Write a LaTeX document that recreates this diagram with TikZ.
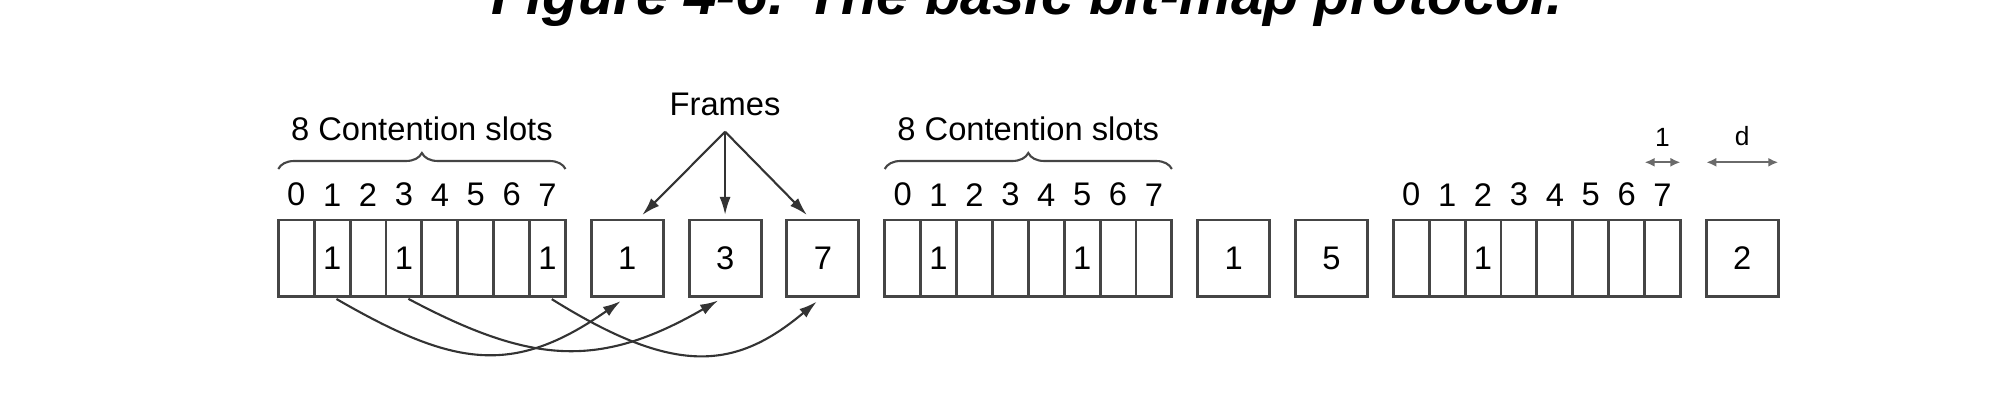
\documentclass[tikz,border=0pt]{standalone}
\usepackage{fontspec}
\setmainfont{Liberation Sans}
\usetikzlibrary{positioning,arrows.meta,decorations.pathreplacing}

\definecolor{boxline}{gray}{0.27}
\definecolor{arrowline}{gray}{0.2}

\begin{document}
\begin{tikzpicture}[
		slotbox/.style={
			draw=boxline,
			line width=0.8pt,
			inner sep=0pt,
			outer sep=0pt,
			minimum width=0.359cm,
			minimum height=0.765cm,
			font=\fontsize{9.3}{11}\selectfont
		},
		framebox/.style={slotbox, minimum width=0.72cm},
		txt/.style={inner sep=0pt, font=\fontsize{9.3}{11}\selectfont},
		dimtxt/.style={inner sep=0pt, font=\fontsize{7.5}{9}\selectfont},
		slotbrace/.style={draw=boxline, line width=0.6pt, decorate,
			decoration={brace, amplitude=0.16cm}},
		pointer/.style={draw=arrowline, line width=0.6pt,
			-{Latex[length=1.8mm, width=1.1mm]}},
		dimline/.style={draw=boxline!80, line width=0.6pt,
			{Latex[length=1mm, width=0.9mm]}-{Latex[length=1mm, width=0.9mm]}}
		]
		\useasboundingbox (0,0) rectangle (19.91,4.13);
		
		% title, cut by the top edge
		\node[inner sep=0pt, anchor=base, font=\fontsize{16.5}{20}\selectfont\bfseries\itshape]
			(title) at (10.27,3.98) {Figure 4-6. The basic bit-map protocol.};
		
		% first round: stations 1, 3 and 7
		\node[slotbox] (a0) at (2.9625,1.5475) {};
		\foreach \i/\b in {1/1,2/{},3/1,4/{},5/{},6/{},7/1}{
			\pgfmathtruncatemacro{\j}{\i-1}
			\node[slotbox, right=0pt of a\j] (a\i) {\b};
		}
		\node[framebox, right=0.258cm of a7] (f1) {1};
		\node[framebox, right=0.258cm of f1] (f3) {3};
		\node[framebox, right=0.258cm of f3] (f7) {7};
		
		% second round: stations 1 and 5
		\node[slotbox, right=0.258cm of f7] (b0) {};
		\foreach \i/\b in {1/1,2/{},3/{},4/{},5/1,6/{},7/{}}{
			\pgfmathtruncatemacro{\j}{\i-1}
			\node[slotbox, right=0pt of b\j] (b\i) {\b};
		}
		\node[framebox, right=0.258cm of b7] (g1) {1};
		\node[framebox, right=0.258cm of g1] (g5) {5};
		
		% third round: station 2
		\node[slotbox, right=0.258cm of g5] (c0) {};
		\foreach \i/\b in {1/{},2/1,3/{},4/{},5/{},6/{},7/{}}{
			\pgfmathtruncatemacro{\j}{\i-1}
			\node[slotbox, right=0pt of c\j] (c\i) {\b};
		}
		\node[framebox, right=0.258cm of c7] (h2) {2};
		
		% slot numbers
		\foreach \g in {a,b,c}
			\foreach \i in {0,...,7}
				\node[txt, above=0.13cm of \g\i] {\i};
		
		\foreach \g in {a,b}
			\draw[slotbrace] ([yshift=0.51cm]\g0.north west) -- ([yshift=0.51cm]\g7.north east)
				node[txt, midway, above=0.27cm] {8 Contention slots};
		
		% frames label
		\coordinate (fr) at ([yshift=0.883cm]f3.north);
		\node[txt, above=0.15cm of fr] (frames) {Frames};
		\draw[pointer] (fr) -- ([xshift=0.15cm, yshift=0.05cm]f1.north);
		\draw[pointer] (fr) -- ([yshift=0.05cm]f3.north);
		\draw[pointer] (fr) -- ([xshift=-0.16cm, yshift=0.05cm]f7.north);
		
		% bits to frames
		\draw[pointer, shorten <=0.05cm, shorten >=0.08cm]
			(a1.south) .. controls +(-30:1.4) and +(-145:1.4) .. (f1.south);
		\draw[pointer, shorten <=0.05cm, shorten >=0.08cm]
			(a3.south) .. controls +(-28:1.45) and +(-150:1.45) .. (f3.south);
		\draw[pointer, shorten <=0.05cm, shorten >=0.08cm]
			(a7.south) .. controls +(-32:1.5) and +(-140:1.15) .. (f7.south);
		
		% widths
		\draw[dimline] ([yshift=0.577cm]c7.north west) -- ([yshift=0.577cm]c7.north east)
			node[dimtxt, midway, above=0.15cm] {1};
		\draw[dimline] ([yshift=0.577cm]h2.north west) -- ([yshift=0.577cm]h2.north east)
			node[dimtxt, midway, above=0.15cm] {d};
		
	\end{tikzpicture}
\end{document}
